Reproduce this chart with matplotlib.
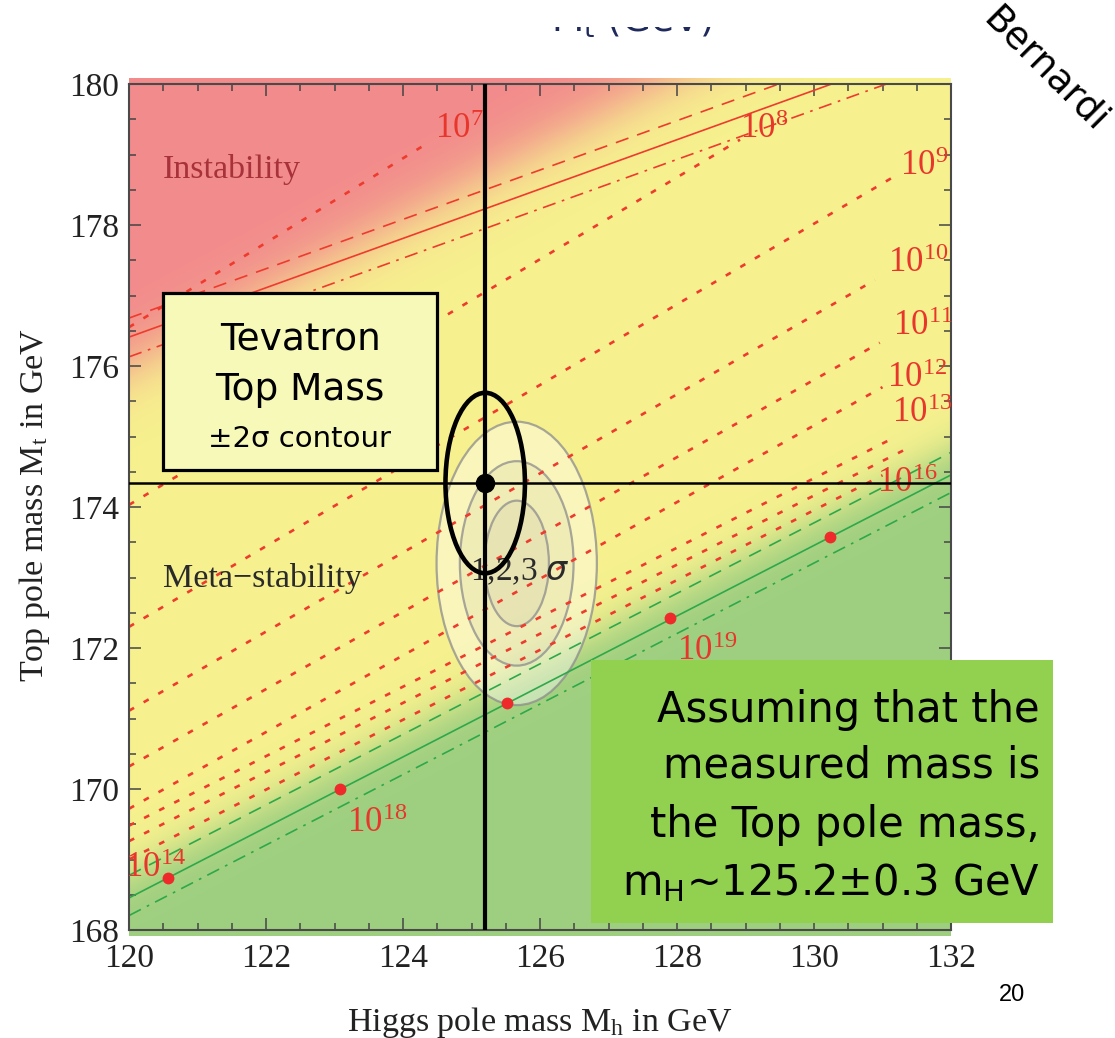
import numpy as np
import matplotlib
matplotlib.use("Agg")
import matplotlib.pyplot as plt
from matplotlib.patches import Ellipse, Rectangle
from matplotlib.ticker import MultipleLocator
from matplotlib.transforms import Bbox, TransformedBbox

# ---------------- data ----------------
mh_lim = [120, 132]
mt_lim = [168, 180]
x_ticks = [120, 122, 124, 126, 128, 130, 132]
y_ticks = [168, 170, 172, 174, 176, 178, 180]

# absolute-stability / instability boundary (red) and its alpha_s band
instab_mh = [120.0, 132.0]
instab_mt = [176.41, 180.61]
instab_up = 0.27
instab_dn = -0.28

# stability boundary (green) and its band
stab_mh = [120.0, 132.0]
stab_mt = [168.455, 174.455]
stab_up = 0.32
stab_dn = -0.25

# centre of the colour transitions of the background
shade_red_mt = [176.0, 182.2]
shade_green_mt = [168.8, 174.8]

# instability-scale contours (dotted), 10^n GeV
scale_exp = [7, 8, 9, 10, 11, 12, 13, 14, 16]
scale_mh0 = [120.0, 120.0, 120.0, 120.0, 120.0, 120.0, 120.0, 120.0, 120.0]
scale_mt0 = [176.55, 174.03, 172.30, 171.11, 170.32, 169.72, 169.48, 169.26, 169.00]
scale_mh1 = [124.39, 128.92, 131.14, 130.89, 130.96, 131.00, 131.10, 131.30, 131.00]
scale_mt1 = [179.18, 179.21, 178.67, 177.22, 176.33, 175.70, 174.95, 174.80, 174.45]

# labels of the contours
label_exp = [7, 8, 9, 10, 11, 12, 13, 16, 14, 18, 19]
label_mh = [124.47, 128.92, 131.26, 131.08, 131.15, 131.07, 131.14, 130.92, 119.94, 123.18, 128.00]
label_mt = [179.23, 179.23, 178.71, 177.33, 176.44, 175.70, 175.21, 174.21, 168.75, 169.39, 171.83]

# red points on the stability line
dot_mh = [120.57, 123.08, 125.52, 127.90, 130.23]
dot_mt = [168.74, 170.00, 171.22, 172.43, 173.57]

# 1,2,3 sigma ellipses of the measurement
sig_center = (125.66, 173.20)
sig_half_mh = [0.47, 0.83, 1.17]
sig_half_mt = [0.89, 1.45, 2.01]

# Tevatron top mass +-2 sigma contour
tev_center = (125.2, 174.34)
tev_half_mh = 0.58
tev_half_mt = 1.28

# ---------------- figure ----------------
W, H = 1115, 1038
fig = plt.figure(figsize=(W / 100, H / 100), dpi=100)
fig.patch.set_facecolor("white")
ax = fig.add_axes([129 / W, 1 - 930 / H, 822 / W, 846 / H])
serif = ["Liberation Serif", "DejaVu Serif"]
sans = ["DejaVu Sans"]

# background shading
red_c = np.array([242, 139, 140]) / 255
yel_c = np.array([247, 241, 143]) / 255
grn_c = np.array([158, 207, 128]) / 255
gx = np.linspace(mh_lim[0], mh_lim[1], 500)
gy = np.linspace(mt_lim[0] - 0.08, mt_lim[1] + 0.08, 500)
GX, GY = np.meshgrid(gx, gy)
yc_r = np.interp(GX, instab_mh, shade_red_mt)
yc_g = np.interp(GX, stab_mh, shade_green_mt)
tr = 1 / (1 + np.exp(-(GY - yc_r) / 0.26))
tg = 1 / (1 + np.exp((GY - yc_g) / 0.18))
img = yel_c * (1 - tr[..., None]) + red_c * tr[..., None]
img = img * (1 - tg[..., None]) + grn_c * tg[..., None]
bg = ax.imshow(img, extent=(mh_lim[0], mh_lim[1], gy[0], gy[-1]), origin="lower",
               aspect="auto", zorder=0, interpolation="bilinear")
bg.set_clip_on(False)

# sigma ellipses
fills = [(0.45, 0.45, 0.35, 0.12), (0.45, 0.45, 0.35, 0.12), (1, 1, 1, 0.4)]
for a, b, fc in zip(sig_half_mh, sig_half_mt, fills):
    ax.add_patch(Ellipse(sig_center, 2 * a, 2 * b, facecolor=fc, edgecolor="none", zorder=1))
for a, b in zip(sig_half_mh, sig_half_mt):
    ax.add_patch(Ellipse(sig_center, 2 * a, 2 * b, facecolor="none",
                         edgecolor=(0.55, 0.55, 0.55, 0.75), lw=1.6, zorder=1.5))

# boundary lines
red = "#EE3B2E"
green = "#2EA84A"
dash = (0, (8, 5.5))
dashdot = (0, (8, 4, 1.6, 4))
ax.plot(instab_mh, instab_mt, color=red, lw=1.2, zorder=2)
ax.plot(instab_mh, np.add(instab_mt, instab_up), color=red, lw=1.2, ls=dash, zorder=2)
ax.plot(instab_mh, np.add(instab_mt, instab_dn), color=red, lw=1.2, ls=dashdot, zorder=2)
ax.plot(stab_mh, stab_mt, color=green, lw=1.2, zorder=2)
ax.plot(stab_mh, np.add(stab_mt, stab_up), color=green, lw=1.2, ls=dash, zorder=2)
ax.plot(stab_mh, np.add(stab_mt, stab_dn), color=green, lw=1.2, ls=dashdot, zorder=2)

# dotted contours
for x0, y0, x1, y1 in zip(scale_mh0, scale_mt0, scale_mh1, scale_mt1):
    ax.plot([x0, x1], [y0, y1], color=red, lw=1.9, ls=(0, (2.2, 4.2)), zorder=2.5)

# contour labels
for e, x, y in zip(label_exp, label_mh, label_mt):
    ax.text(x, y, r"$\mathregular{10^{%d}}$" % e, color="#E8362C", fontsize=25,
            family=serif, ha="left", va="baseline", zorder=3, clip_on=False)

# red points
ax.plot(dot_mh, dot_mt, "o", color="#EE2A2A", ms=8.5, mec="none", zorder=3)

# region texts
ax.text(120.5, 178.67, "Instability", color="#A8323A", fontsize=24.5, family=serif,
        ha="left", va="baseline", zorder=3)
ax.text(120.5, 172.87, "Meta\u2212stability", color="#2A2A2A", fontsize=24.5, family=serif,
        ha="left", va="baseline", zorder=3)
ax.text(124.98, 172.96, r"1,2,3 $\sigma$", color="#2A2A2A", fontsize=24, family=serif,
        ha="left", va="baseline", zorder=3)

# Tevatron measurement
ax.add_patch(Ellipse(tev_center, 2 * tev_half_mh, 2 * tev_half_mt, facecolor="none",
                     edgecolor="black", lw=3.3, zorder=4))
ax.axvline(tev_center[0], color="black", lw=3.0, zorder=4)
ax.axhline(tev_center[1], color="black", lw=1.8, zorder=4)
ax.plot([tev_center[0]], [tev_center[1]], "o", color="black", ms=13, zorder=4.5)

# axes cosmetics
ax.set_xlim(mh_lim)
ax.set_ylim(mt_lim)
ax.set_xticks(x_ticks)
ax.set_yticks(y_ticks)
ax.xaxis.set_minor_locator(MultipleLocator(0.5))
ax.yaxis.set_minor_locator(MultipleLocator(0.5))
ax.tick_params(which="both", direction="in", top=True, right=True, color="#444444", width=1.1)
ax.tick_params(which="major", length=8.5, labelsize=24, labelcolor="#222222")
ax.tick_params(axis="x", which="major", pad=10)
ax.tick_params(axis="y", which="major", pad=7)
ax.tick_params(which="minor", length=5)
for lab in ax.get_xticklabels() + ax.get_yticklabels():
    lab.set_family(serif)
for sp in ax.spines.values():
    sp.set_color("#4A4A4A")
    sp.set_linewidth(1.5)

fig.text(35 / W, 1 - 505 / H, r"Top pole mass $\mathregular{M_t}$ in GeV", rotation=90,
         fontsize=24.5, family=serif, color="#222222", ha="center", va="center")
fig.text(540 / W, 1 - 1031 / H, r"Higgs pole mass $\mathregular{M_h}$ in GeV",
         fontsize=24.5, family=serif, color="#222222", ha="center", va="baseline")

# cut-off title at the very top
t = fig.text(632 / W, 1 - 32 / H, r"$\mathregular{M_t}$ (GeV)", fontsize=27, family=sans,
             color="#1F2A5C", ha="center", va="baseline")
t.set_clip_box(TransformedBbox(Bbox([[0, 0], [1, 1 - 27 / H]]), fig.transFigure))
t.set_clip_on(True)

# Tevatron box
fig.add_artist(Rectangle((163 / W, 1 - 470 / H), 274 / W, 177 / H, transform=fig.transFigure,
                         facecolor="#F7F9B9", edgecolor="black", lw=2.3, zorder=5))
fig.text(300 / W, 1 - 350 / H, "Tevatron", fontsize=27, family=sans, ha="center",
         va="baseline", zorder=6)
fig.text(300 / W, 1 - 400 / H, "Top Mass", fontsize=27, family=sans, ha="center",
         va="baseline", zorder=6)
fig.text(300 / W, 1 - 447 / H, "\u00b12\u03c3 contour", fontsize=21, family=sans,
         ha="center", va="baseline", zorder=6)

# green note box
fig.add_artist(Rectangle((591 / W, 1 - 923 / H), 462 / W, 263 / H, transform=fig.transFigure,
                         facecolor="#92D050", edgecolor="none", zorder=5))
note_lines = ["Assuming that the", "measured mass is", "the Top pole mass,",
              r"$\mathregular{m_H}$~125.2$\mathregular{\pm}$0.3 GeV"]
note_base = [722, 778, 837, 895]
for s, yb in zip(note_lines, note_base):
    fig.text(1040 / W, 1 - yb / H, s, fontsize=30, family=sans, ha="right", va="baseline",
             zorder=6)

fig.text(1045 / W, 1 - 70 / H, "Bernardi", fontsize=27, family=sans, rotation=-45,
         ha="center", va="center")
fig.text(1012 / W, 1 - 995 / H, "20", fontsize=17, family=["Liberation Sans"], ha="center",
         va="center")

fig.savefig("out.png", dpi=100)
